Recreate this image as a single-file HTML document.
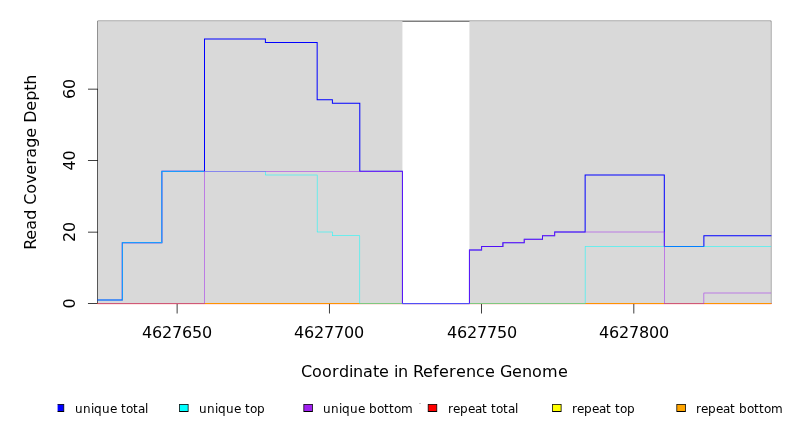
<!DOCTYPE html>
<html><head><meta charset="utf-8"><title>Read Coverage Depth</title>
<style>html,body{margin:0;padding:0;background:#fff}svg{display:block}text{font-family:"DejaVu Sans","Liberation Sans",sans-serif;fill:#000}</style></head>
<body>
<svg width="792" height="432" viewBox="0 0 792 432">
<rect width="792" height="432" fill="#fff"/>
<path fill="#000" d="M177.09 303.25H633.85V304H177.09zM176.72 303.25H177.47V313.6H176.72zM328.97 303.25H329.72V313.6H328.97zM481.22 303.25H481.97V313.6H481.22zM633.48 303.25H634.23V313.6H633.48z"/>
<path fill="#000" d="M97.55 89.06H98.3V303.62H97.55zM87.95 303.25H98.3V304H87.95zM87.95 231.73H98.3V232.48H87.95zM87.95 160.21H98.3V160.96H87.95zM87.95 88.69H98.3V89.44H87.95z"/>
<path fill="#000" d="M97.55 20.75H771.25V21.5H97.55zM97.55 303.25H771.25V304H97.55zM97.55 21.12H98.3V303.62H97.55zM770.5 21.12H771.25V303.62H770.5z"/>
<rect x="97.92" y="21.12" width="304.51" height="282.5" fill="#d9d9d9"/>
<rect x="469.42" y="21.12" width="301.46" height="282.5" fill="#d9d9d9"/>
<path fill="#ff0000" d="M97.42 303.12H771.38V304.12H97.42z"/>
<path fill="#ffff00" d="M97.67 303.37H771.13V303.87H97.67z"/>
<path fill="#ffa500" d="M97.67 303.37H771.13V303.87H97.67z"/>
<path fill="#0000ff" d="M97.42 299.54H122.78V300.54H97.42zM121.78 242.83H122.78V300.04H121.78zM121.78 242.33H162.37V243.33H121.78zM161.37 171.31H162.37V242.83H161.37zM161.37 170.81H205V171.81H161.37zM204 39H205V171.31H204zM204 38.5H265.9V39.5H204zM264.9 39H265.9V42.58H264.9zM264.9 42.08H317.66V43.08H264.9zM316.66 42.58H317.66V99.79H316.66zM316.66 99.29H332.89V100.29H316.66zM331.89 99.79H332.89V103.37H331.89zM331.89 102.87H360.3V103.87H331.89zM359.3 103.37H360.3V171.31H359.3zM359.3 170.81H402.93V171.81H359.3zM401.93 171.31H402.93V303.62H401.93zM401.93 303.12H469.92V304.12H401.93zM468.92 249.98H469.92V303.62H468.92zM468.92 249.48H482.1V250.48H468.92zM481.1 246.4H482.1V249.98H481.1zM481.1 245.9H503.41V246.9H481.1zM502.41 242.83H503.41V246.4H502.41zM502.41 242.33H524.73V243.33H502.41zM523.73 239.25H524.73V242.83H523.73zM523.73 238.75H543V239.75H523.73zM542 235.68H543V239.25H542zM542 235.18H555.18V236.18H542zM554.18 232.1H555.18V235.68H554.18zM554.18 231.6H585.63V232.6H554.18zM584.63 174.89H585.63V232.1H584.63zM584.63 174.39H664.8V175.39H584.63zM663.8 174.89H664.8V246.4H663.8zM663.8 245.9H704.39V246.9H663.8zM703.39 235.68H704.39V246.4H703.39zM703.39 235.18H771.38V236.18H703.39z"/>
<path fill="#00ffff" d="M97.67 299.79H122.53V300.29H97.67zM122.03 242.83H122.53V300.04H122.03zM122.03 242.58H162.12V243.08H122.03zM161.62 171.31H162.12V242.83H161.62zM161.62 171.06H265.65V171.56H161.62zM265.15 171.31H265.65V174.89H265.15zM265.15 174.64H317.41V175.14H265.15zM316.91 174.89H317.41V232.1H316.91zM316.91 231.85H332.64V232.35H316.91zM332.14 232.1H332.64V235.68H332.14zM332.14 235.43H360.05V235.93H332.14zM359.55 235.68H360.05V303.62H359.55zM359.55 303.37H585.38V303.87H359.55zM584.88 246.4H585.38V303.62H584.88zM584.88 246.15H771.13V246.65H584.88z"/>
<path fill="#a020f0" d="M97.67 303.37H204.75V303.87H97.67zM204.25 171.31H204.75V303.62H204.25zM204.25 171.06H402.68V171.56H204.25zM402.18 171.31H402.68V303.62H402.18zM402.18 303.37H469.67V303.87H402.18zM469.17 249.98H469.67V303.62H469.17zM469.17 249.73H481.85V250.23H469.17zM481.35 246.4H481.85V249.98H481.35zM481.35 246.15H503.16V246.65H481.35zM502.66 242.83H503.16V246.4H502.66zM502.66 242.58H524.48V243.08H502.66zM523.98 239.25H524.48V242.83H523.98zM523.98 239H542.75V239.5H523.98zM542.25 235.68H542.75V239.25H542.25zM542.25 235.43H554.93V235.93H542.25zM554.43 232.1H554.93V235.68H554.43zM554.43 231.85H664.55V232.35H554.43zM664.05 232.1H664.55V303.62H664.05zM664.05 303.37H704.14V303.87H664.05zM703.64 292.89H704.14V303.62H703.64zM703.64 292.64H771.13V293.14H703.64z"/>
<rect x="97.42" y="304" width="673.96" height="1" fill="#ff0000" fill-opacity="0.1"/>
<rect x="402.43" y="304" width="66.99" height="1" fill="#0000ff" fill-opacity="0.1"/>
<text x="142 152 162 172 182 192 202" y="338" font-size="16">4627650</text>
<text x="294 304 314 324 334 344 354" y="338" font-size="16">4627700</text>
<text x="447 457 467 477 487 497 507" y="338" font-size="16">4627750</text>
<text x="599 609 619 629 639 649 659" y="338" font-size="16">4627800</text>
<text transform="translate(74.9 303.62) rotate(-90)" x="-5" y="0" font-size="16">0</text>
<text transform="translate(74.9 232.1) rotate(-90)" x="-10 0" y="0" font-size="16">20</text>
<text transform="translate(74.9 160.58) rotate(-90)" x="-10 0" y="0" font-size="16">40</text>
<text transform="translate(74.9 89.06) rotate(-90)" x="-10 0" y="0" font-size="16">60</text>
<text x="301 312 322 332 339 349 353 363 373 379 389 394 398 408 413 423 433 439 449 456 466 476 485 495 500 512 522 532 542 558" y="377" font-size="16">Coordinate in Reference Genome</text>
<text transform="translate(35.8 162.37) rotate(-90)" x="-87.5 -77.5 -67.5 -57.5 -47.5 -42.5 -31.5 -21.5 -12.5 -2.5 4.5 14.5 24.5 34.5 39.5 51.5 61.5 71.5 77.5" y="0" font-size="16">Read Coverage Depth</text>
<defs><clipPath id="fig"><rect x="57.6" y="0" width="734.4" height="432"/></clipPath></defs>
<g clip-path="url(#fig)">
<rect x="55.17" y="404.3" width="8.64" height="7.2" fill="#0000ff"/>
<path fill="#000" fill-rule="evenodd" d="M54.8 403.93H64.19V411.88H54.8zM55.55 404.68H63.44V411.12H55.55z"/>
<rect x="179.5" y="404.3" width="8.64" height="7.2" fill="#00ffff"/>
<path fill="#000" fill-rule="evenodd" d="M179.12 403.93H188.51V411.88H179.12zM179.88 404.68H187.76V411.12H179.88z"/>
<rect x="303.83" y="404.3" width="8.64" height="7.2" fill="#a020f0"/>
<path fill="#000" fill-rule="evenodd" d="M303.45 403.93H312.84V411.88H303.45zM304.2 404.68H312.09V411.12H304.2z"/>
<rect x="428.16" y="404.3" width="8.64" height="7.2" fill="#ff0000"/>
<path fill="#000" fill-rule="evenodd" d="M427.79 403.93H437.18V411.88H427.79zM428.54 404.68H436.43V411.12H428.54z"/>
<rect x="552.49" y="404.3" width="8.64" height="7.2" fill="#ffff00"/>
<path fill="#000" fill-rule="evenodd" d="M552.12 403.93H561.5V411.88H552.12zM552.87 404.68H560.75V411.12H552.87z"/>
<rect x="676.82" y="404.3" width="8.64" height="7.2" fill="#ffa500"/>
<path fill="#000" fill-rule="evenodd" d="M676.44 403.93H685.83V411.88H676.44zM677.19 404.68H685.08V411.12H677.19z"/>
</g>
<text x="75 83 91 94 102 110 117 121 126 133 138 145" y="413" font-size="12">unique total</text>
<text x="199 207 215 218 226 234 241 245 250 257" y="413" font-size="12">unique top</text>
<text x="323 331 339 342 350 358 365 369 377 384 389 394 401" y="413" font-size="12">unique bottom</text>
<text x="448 453 460 468 475 482 487 491 496 503 508 515" y="413" font-size="12">repeat total</text>
<text x="572 577 584 592 599 606 611 615 620 627" y="413" font-size="12">repeat top</text>
<text x="696 701 708 716 723 730 735 739 747 754 759 764 771" y="413" font-size="12">repeat bottom</text>
<rect x="419" y="403" width="2" height="1" fill="#c8c8c8"/>
</svg>
</body></html>
